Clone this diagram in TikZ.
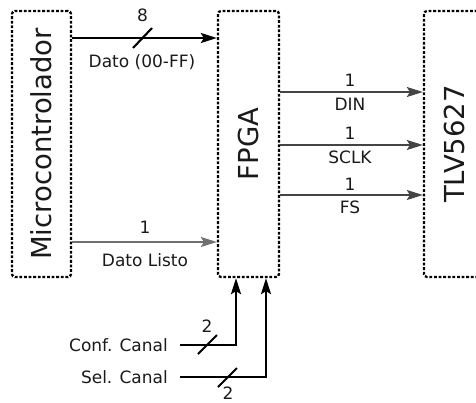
\documentclass[tikz,border=0pt]{standalone}
\usepackage{fontspec}
\setmainfont{DejaVu Sans}
\usetikzlibrary{arrows.meta,calc}
\definecolor{txt}{HTML}{1A1A1A}
\definecolor{sig}{HTML}{444444}
\definecolor{thin}{HTML}{707070}
\begin{document}
\begin{tikzpicture}[x=1pt,y=-1pt,
  blk/.style={draw=black,line width=2.3pt,dash pattern=on 2.8pt off 1.8pt,rounded corners=3pt,
    minimum width=59pt,minimum height=266pt,inner sep=0pt,text=txt,font=\fontsize{27.5}{27.5}\selectfont},
  tip/.style={-{Stealth[length=16pt,width=10pt,inset=3pt]}},
  bus/.style={tip,line width=2.3pt,draw=black},
  wire/.style={tip,line width=1.6pt,draw=sig},
  wirethin/.style={tip,line width=1.4pt,draw=thin},
  lbl/.style={text=txt,font=\fontsize{17}{17}\selectfont,inner sep=0pt},
  slash/.style={line width=2.1pt,draw=black}]
\useasboundingbox (0,0) rectangle (476,402);
% blocks
\node[blk] (micro) at (41.5,144) {\rotatebox{90}{Microcontrolador}};
\node[blk,minimum width=61pt] (fpga) at (248.5,144) {\rotatebox{90}{FPGA}};
\node[blk,minimum width=61pt] (tlv) at (454.5,144) {\rotatebox{90}{TLV5627}};
% level coordinates
\coordinate (yDato) at (0,38);
\coordinate (yListo) at (0,242);
\coordinate (yDin) at (0,92);
\coordinate (ySclk) at (0,145);
\coordinate (yFs) at (0,195);
\coordinate (xConf) at (236,0);
\coordinate (xSel) at (266,0);
% Microcontrolador -> FPGA
\draw[bus] (micro.east |- yDato) -- (fpga.west |- yDato);
\draw[slash] (133,48) -- (152,28);
\node[lbl] (n8) at (142.5,15) {8};
\node[lbl] (ldato) at (142,62) {Dato (00-FF)};
\draw[wirethin] (micro.east |- yListo) -- (fpga.west |- yListo);
\node[lbl] (n1l) at (145,227) {1};
\node[lbl] (llisto) at (145,260) {Dato Listo};
% FPGA -> TLV5627
\draw[wire] (fpga.east |- yDin) -- (tlv.west |- yDin);
\node[lbl] (n1a) at (350,80) {1};
\node[lbl] (ldin) at (350,104) {DIN};
\draw[wire] (fpga.east |- ySclk) -- (tlv.west |- ySclk);
\node[lbl] (n1b) at (350,133) {1};
\node[lbl] (lsclk) at (350,157) {SCLK};
\draw[wire] (fpga.east |- yFs) -- (tlv.west |- yFs);
\node[lbl] (n1c) at (350,184) {1};
\node[lbl] (lfs) at (350,207) {FS};
% Conf / Sel Canal
\node[lbl,anchor=east] (conf) at (168,345) {Conf. Canal};
\node[lbl,anchor=east] (sel) at (168,377) {Sel. Canal};
\draw[bus] ($(conf.east)+(12,0)$) -| (fpga.south -| xConf);
\draw[slash] (198,354) -- (217,335);
\node[lbl] (n2a) at (207,326) {2};
\draw[bus] ($(sel.east)+(12,0)$) -| (fpga.south -| xSel);
\draw[slash] (218,387) -- (237,368);
\node[lbl] (n2b) at (228,393) {2};
\end{tikzpicture}
\end{document}
